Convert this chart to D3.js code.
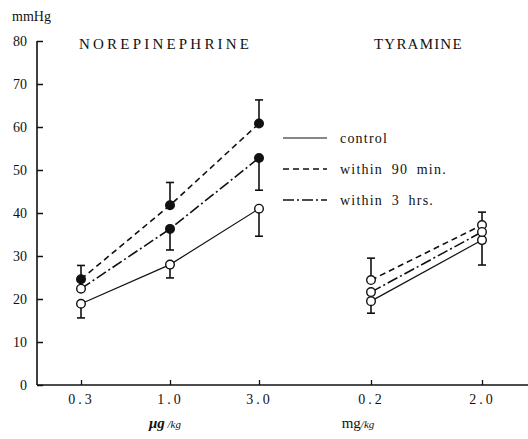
<!DOCTYPE html>
<html>
<head>
<meta charset="utf-8">
<script src="https://cdn.jsdelivr.net/npm/d3@7"></script>
<style>
  body { margin: 0; background: #fff; }
  text { font-family: "Liberation Serif", "DejaVu Serif", serif; fill: #111; }
</style>
</head>
<body>
<div class="chart"></div>
<script>
// dose categories
var noreDoses = ["0.3", "1.0", "3.0"];
var tyrDoses = ["0.2", "2.0"];
var yTicks = [0, 10, 20, 30, 40, 50, 60, 70, 80];

// mean rise in blood pressure (mmHg) and error bar length
var noreControl = [18.9, 28.0, 41.0];
var noreControlErr = [3.3, 3.1, 6.4];
var nore90 = [24.6, 41.8, 60.8];
var nore90Err = [3.2, 5.3, 5.5];
var nore3h = [22.4, 36.3, 52.8];
var nore3hErr = [0, 4.9, 7.5];

var tyrControl = [19.5, 33.7];
var tyrControlErr = [2.8, 5.8];
var tyr90 = [24.4, 37.2];
var tyr90Err = [5.1, 3.0];
var tyr3h = [21.6, 35.6];
var tyr3hErr = [0, 0];

var legendLabels = ["control", "within 90 min.", "within 3 hrs."];

var svgWidth = 528;
var svgHeight = 439;

var svg = d3.select(".chart")
    .append("svg")
    .attr("width", svgWidth)
    .attr("height", svgHeight);

var y = d3.scaleLinear().domain([0, 80]).range([385, 41]);
var xNore = d3.scalePoint().domain(noreDoses).range([81, 259]);
var xTyr = d3.scalePoint().domain(tyrDoses).range([371, 482]);

// styles for the three conditions
var dashes = [null, "6,4", "11,3,2,3"];
var widths = [1.2, 1.6, 1.6];

// left axis, ticks pointing inward
var leftAxis = d3.axisLeft(y).tickValues(yTicks).tickSize(-6).tickPadding(10);
var gy = svg.append("g").attr("transform", "translate(37,0)").call(leftAxis);
gy.select(".domain").remove();
gy.selectAll("line").attr("stroke", "#111").attr("stroke-width", 1.5);
gy.selectAll("text").style("font-size", "14px").attr("dy", "0.35em");
svg.append("line")
    .attr("x1", 37).attr("x2", 37)
    .attr("y1", y(80)).attr("y2", y(0))
    .attr("stroke", "#111").attr("stroke-width", 1.6);

// bottom axis: one baseline, two dose scales
svg.append("line")
    .attr("x1", 37).attr("x2", svgWidth)
    .attr("y1", y(0)).attr("y2", y(0))
    .attr("stroke", "#111").attr("stroke-width", 1.6);

[xNore, xTyr].forEach(function(sc) {
  var g = svg.append("g")
      .attr("transform", "translate(0," + y(0) + ")")
      .call(d3.axisBottom(sc).tickSize(-5).tickPadding(9));
  g.select(".domain").remove();
  g.selectAll("line").attr("stroke", "#111").attr("stroke-width", 1.3);
  g.selectAll("text")
      .style("font-size", "14px")
      .style("letter-spacing", "3px");
});

// units
var u1 = svg.append("text").attr("x", 165).attr("y", 428).attr("text-anchor", "middle");
u1.append("tspan").text("μg").style("font-style", "italic").style("font-weight", "bold").style("font-size", "15px");
u1.append("tspan").text(" /kg").style("font-style", "italic").style("font-size", "11px");
var u2 = svg.append("text").attr("x", 358).attr("y", 428).attr("text-anchor", "middle");
u2.append("tspan").text("mg").style("font-size", "15px");
u2.append("tspan").text("/kg").style("font-style", "italic").style("font-size", "11px");

// titles
svg.append("text").attr("x", 12).attr("y", 21).text("mmHg").style("font-size", "14px");
svg.append("text").attr("x", 79).attr("y", 49).text("NOREPINEPHRINE")
    .style("font-size", "15px")
    .attr("textLength", 170).attr("lengthAdjust", "spacing");
svg.append("text").attr("x", 374).attr("y", 49).text("TYRAMINE")
    .style("font-size", "15px")
    .style("letter-spacing", "1.2px");

function drawPanel(xs, doses, series, filled) {
  var line = d3.line()
      .x(function(d) { return xs(d.dose); })
      .y(function(d) { return y(d.v); });

  series.forEach(function(s, i) {
    var pts = doses.map(function(d, k) {
      return { dose: d, v: s.vals[k], e: s.err[k] };
    });

    svg.append("path")
        .datum(pts)
        .attr("d", line)
        .attr("fill", "none")
        .attr("stroke", "#111")
        .attr("stroke-width", widths[i])
        .attr("stroke-dasharray", dashes[i]);

    // error bars: control and 3 hrs downward, 90 min upward
    var dir = i === 1 ? 1 : -1;
    pts.filter(function(p) { return p.e > 0; }).forEach(function(p) {
      var x0 = xs(p.dose);
      var yEnd = y(p.v + dir * p.e);
      svg.append("line")
          .attr("x1", x0).attr("x2", x0)
          .attr("y1", y(p.v)).attr("y2", yEnd)
          .attr("stroke", "#111").attr("stroke-width", 1.6);
      svg.append("line")
          .attr("x1", x0 - 4).attr("x2", x0 + 4)
          .attr("y1", yEnd).attr("y2", yEnd)
          .attr("stroke", "#111").attr("stroke-width", 1.6);
    });

    // the 3 hrs point at the lowest dose is drawn open in the original
    svg.selectAll(null)
        .data(pts)
        .enter().append("circle")
        .attr("cx", function(d) { return xs(d.dose); })
        .attr("cy", function(d) { return y(d.v); })
        .attr("r", 4.3)
        .attr("fill", function(d, k) {
          return filled && i > 0 && !(i === 2 && k === 0) ? "#111" : "#fff";
        })
        .attr("stroke", "#111")
        .attr("stroke-width", 1.4);
  });
}

drawPanel(xNore, noreDoses, [
  { vals: noreControl, err: noreControlErr },
  { vals: nore90, err: nore90Err },
  { vals: nore3h, err: nore3hErr }
], true);

drawPanel(xTyr, tyrDoses, [
  { vals: tyrControl, err: tyrControlErr },
  { vals: tyr90, err: tyr90Err },
  { vals: tyr3h, err: tyr3hErr }
], false);

// legend
var legend = svg.append("g").attr("transform", "translate(283,138)");
legendLabels.forEach(function(lab, i) {
  var row = legend.append("g").attr("transform", "translate(0," + (i * 31) + ")");
  row.append("line")
      .attr("x1", 0).attr("x2", 44)
      .attr("stroke", "#111")
      .attr("stroke-width", widths[i])
      .attr("stroke-dasharray", dashes[i]);
  row.append("text")
      .attr("x", 57).attr("dy", "0.35em")
      .text(lab)
      .style("font-size", "14px")
      .style("letter-spacing", "1.2px")
      .style("word-spacing", "4px");
});
</script>
</body>
</html>
